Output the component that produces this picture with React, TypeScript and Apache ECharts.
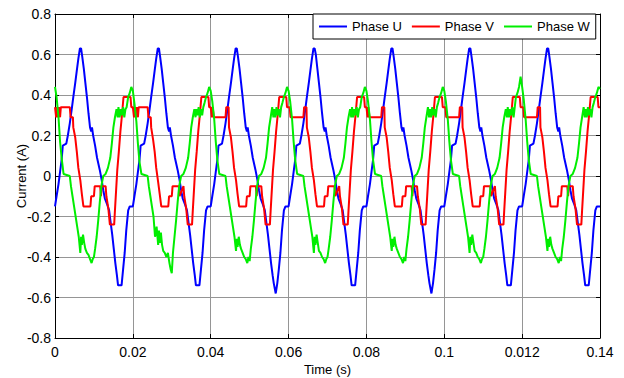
import React, { useEffect, useRef } from "react";
import * as echarts from "echarts";

const FONT = "'Liberation Sans', Arial, sans-serif";

const xTickLabels = ["0", "0.02", "0.04", "0.06", "0.08", "0.1", "0.012", "0.14"];
const yTickLabels = ["-0.8", "-0.6", "-0.4", "-0.2", "0", "0.2", "0.4", "0.6", "0.8"];
const seriesNames = ["Phase U", "Phase V", "Phase W"];

// start time of each 20 ms cycle
const cycleStarts = [0, 0.02, 0.04, 0.06, 0.08, 0.1, 0.12];

// Phase U: vertex times inside a cycle, and the values read for each cycle
const phaseUTimes = [0, 0.0004, 0.0009, 0.0013, 0.0017, 0.002, 0.0029, 0.0033, 0.0038, 0.0043, 0.0047, 0.0052, 0.0056, 0.006, 0.0064, 0.0067, 0.007, 0.0074, 0.0078, 0.0082, 0.0086, 0.009, 0.0093, 0.0095, 0.0098, 0.0103, 0.0108, 0.0115, 0.012, 0.0124, 0.0128, 0.0134, 0.0139, 0.0143, 0.0147, 0.0151, 0.0155, 0.0159, 0.0162, 0.0167, 0.0171, 0.0175, 0.0179, 0.0183, 0.0188, 0.0192];
const phaseUCycles = [
  [-0.15, -0.1, -0.04, 0.02, 0.08, 0.15, 0.16, 0.2, 0.26, 0.33, 0.39, 0.46, 0.52, 0.58, 0.63, 0.63, 0.59, 0.53, 0.46, 0.39, 0.31, 0.24, 0.22, 0.24, 0.2, 0.15, 0.09, 0.03, -0.02, -0.07, -0.11, -0.14, -0.17, -0.23, -0.29, -0.36, -0.43, -0.49, -0.54, -0.54, -0.54, -0.46, -0.38, -0.27, -0.17, -0.15],
  [-0.15, -0.1, -0.04, 0.02, 0.08, 0.15, 0.16, 0.2, 0.26, 0.33, 0.39, 0.46, 0.52, 0.58, 0.63, 0.63, 0.59, 0.53, 0.46, 0.39, 0.31, 0.24, 0.22, 0.24, 0.2, 0.15, 0.09, 0.03, -0.02, -0.07, -0.11, -0.14, -0.17, -0.23, -0.29, -0.36, -0.43, -0.49, -0.54, -0.54, -0.54, -0.46, -0.38, -0.27, -0.17, -0.15],
  [-0.15, -0.1, -0.04, 0.02, 0.08, 0.15, 0.16, 0.2, 0.26, 0.33, 0.39, 0.46, 0.52, 0.58, 0.63, 0.63, 0.59, 0.53, 0.46, 0.39, 0.31, 0.24, 0.22, 0.24, 0.2, 0.15, 0.09, 0.03, -0.02, -0.07, -0.11, -0.14, -0.17, -0.23, -0.29, -0.36, -0.43, -0.49, -0.53, -0.58, -0.53, -0.46, -0.38, -0.27, -0.17, -0.15],
  [-0.15, -0.1, -0.04, 0.02, 0.08, 0.15, 0.16, 0.2, 0.26, 0.33, 0.39, 0.46, 0.52, 0.58, 0.63, 0.63, 0.6, 0.53, 0.46, 0.39, 0.31, 0.24, 0.22, 0.24, 0.2, 0.15, 0.09, 0.03, -0.02, -0.07, -0.11, -0.14, -0.17, -0.23, -0.29, -0.36, -0.43, -0.49, -0.54, -0.54, -0.54, -0.46, -0.38, -0.27, -0.17, -0.15],
  [-0.15, -0.1, -0.04, 0.02, 0.08, 0.15, 0.16, 0.2, 0.26, 0.33, 0.39, 0.46, 0.52, 0.58, 0.63, 0.63, 0.59, 0.53, 0.46, 0.39, 0.31, 0.24, 0.22, 0.24, 0.2, 0.15, 0.09, 0.03, -0.02, -0.07, -0.11, -0.14, -0.17, -0.23, -0.29, -0.36, -0.43, -0.49, -0.53, -0.58, -0.53, -0.46, -0.38, -0.27, -0.17, -0.15],
  [-0.15, -0.1, -0.04, 0.02, 0.08, 0.15, 0.16, 0.2, 0.26, 0.33, 0.39, 0.46, 0.52, 0.58, 0.63, 0.63, 0.59, 0.53, 0.46, 0.39, 0.31, 0.24, 0.22, 0.24, 0.2, 0.15, 0.09, 0.03, -0.02, -0.07, -0.11, -0.14, -0.17, -0.23, -0.29, -0.36, -0.43, -0.49, -0.54, -0.54, -0.54, -0.46, -0.38, -0.27, -0.17, -0.15],
  [-0.15, -0.1, -0.04, 0.02, 0.08, 0.15, 0.16, 0.2, 0.26, 0.33, 0.39, 0.46, 0.52, 0.58, 0.63, 0.63, 0.59, 0.53, 0.46, 0.39, 0.31, 0.24, 0.22, 0.24, 0.2, 0.15, 0.09, 0.03, -0.02, -0.07, -0.11, -0.14, -0.17, -0.23, -0.29, -0.36, -0.43, -0.49, -0.54, -0.54, -0.54, -0.46, -0.38, -0.27, -0.17, -0.15],
];
const phaseUEnd = -0.15;

// Phase V
const phaseVTimes = [0, 0.0003, 0.0005, 0.0008, 0.001, 0.0013, 0.0015, 0.0038, 0.004, 0.0046, 0.0047, 0.0052, 0.0056, 0.006, 0.0065, 0.0069, 0.0073, 0.0091, 0.0093, 0.01, 0.0102, 0.0116, 0.0118, 0.012, 0.013, 0.0132, 0.0137, 0.0141, 0.0152, 0.0154, 0.0157, 0.016, 0.0164, 0.0168, 0.0172, 0.0176, 0.0194, 0.0196];
const phaseVCycles = [
  [0.34, 0.29, 0.34, 0.29, 0.34, 0.29, 0.34, 0.34, 0.29, 0.29, 0.24, 0.19, 0.12, 0.04, -0.02, -0.09, -0.15, -0.15, -0.1, -0.1, -0.05, -0.05, -0.1, -0.05, -0.05, -0.1, -0.16, -0.24, -0.24, -0.17, -0.07, 0.03, 0.12, 0.22, 0.3, 0.39, 0.39, 0.34],
  [0.34, 0.29, 0.34, 0.29, 0.34, 0.29, 0.34, 0.34, 0.29, 0.29, 0.24, 0.18, 0.12, 0.04, -0.03, -0.09, -0.15, -0.15, -0.1, -0.1, -0.05, -0.05, -0.05, -0.1, -0.05, -0.1, -0.16, -0.24, -0.24, -0.17, -0.07, 0.03, 0.12, 0.22, 0.3, 0.39, 0.39, 0.34],
  [0.34, 0.29, 0.34, 0.29, 0.29, 0.29, 0.29, 0.29, 0.34, 0.34, 0.24, 0.19, 0.12, 0.04, -0.02, -0.09, -0.15, -0.15, -0.1, -0.1, -0.05, -0.05, -0.1, -0.05, -0.05, -0.1, -0.16, -0.24, -0.24, -0.17, -0.07, 0.03, 0.12, 0.22, 0.3, 0.39, 0.39, 0.34],
  [0.34, 0.34, 0.29, 0.29, 0.29, 0.29, 0.29, 0.29, 0.34, 0.34, 0.24, 0.19, 0.12, 0.04, -0.02, -0.09, -0.15, -0.15, -0.1, -0.1, -0.05, -0.05, -0.05, -0.1, -0.05, -0.1, -0.16, -0.24, -0.24, -0.17, -0.07, 0.03, 0.12, 0.22, 0.3, 0.39, 0.39, 0.34],
  [0.34, 0.29, 0.34, 0.29, 0.29, 0.29, 0.29, 0.29, 0.34, 0.34, 0.24, 0.19, 0.12, 0.04, -0.02, -0.09, -0.15, -0.15, -0.1, -0.1, -0.05, -0.05, -0.1, -0.05, -0.05, -0.1, -0.16, -0.24, -0.24, -0.17, -0.07, 0.03, 0.12, 0.22, 0.3, 0.39, 0.39, 0.34],
  [0.34, 0.34, 0.29, 0.29, 0.29, 0.29, 0.29, 0.29, 0.34, 0.34, 0.24, 0.19, 0.12, 0.04, -0.02, -0.09, -0.15, -0.15, -0.1, -0.1, -0.05, -0.05, -0.05, -0.1, -0.05, -0.1, -0.16, -0.24, -0.24, -0.17, -0.07, 0.03, 0.12, 0.22, 0.3, 0.39, 0.39, 0.34],
  [0.34, 0.34, 0.29, 0.29, 0.29, 0.29, 0.29, 0.29, 0.34, 0.34, 0.24, 0.19, 0.12, 0.04, -0.02, -0.09, -0.15, -0.15, -0.1, -0.1, -0.05, -0.05, -0.1, -0.05, -0.05, -0.1, -0.16, -0.24, -0.24, -0.17, -0.07, 0.03, 0.12, 0.22, 0.3, 0.39, 0.39, 0.34],
];
const phaseVEnd = 0.34;

// Phase W
const phaseWTimes = [0, 0.0004, 0.0009, 0.0013, 0.0017, 0.0022, 0.0038, 0.0041, 0.0045, 0.0049, 0.0053, 0.0057, 0.0061, 0.0065, 0.0067, 0.0069, 0.0072, 0.0075, 0.0078, 0.0082, 0.0086, 0.009, 0.0094, 0.0097, 0.01, 0.0103, 0.0107, 0.0111, 0.0115, 0.0119, 0.0124, 0.013, 0.0136, 0.0142, 0.0146, 0.015, 0.0154, 0.0158, 0.0161, 0.0163, 0.0166, 0.0169, 0.0172, 0.0175, 0.0178, 0.0181, 0.0184, 0.0188, 0.0192, 0.0196];
const phaseWCycles = [
  [0.44, 0.39, 0.29, 0.17, 0.09, 0.01, 0.0, -0.05, -0.1, -0.15, -0.2, -0.25, -0.3, -0.38, -0.3, -0.34, -0.29, -0.33, -0.36, -0.38, -0.39, -0.41, -0.43, -0.41, -0.4, -0.36, -0.3, -0.22, -0.13, -0.05, 0.0, 0.01, 0.04, 0.09, 0.16, 0.24, 0.29, 0.33, 0.29, 0.34, 0.29, 0.33, 0.3, 0.34, 0.29, 0.33, 0.34, 0.39, 0.41, 0.44],
  [0.42, 0.36, 0.27, 0.16, 0.07, 0.01, 0.0, -0.05, -0.1, -0.15, -0.2, -0.3, -0.25, -0.34, -0.27, -0.33, -0.28, -0.34, -0.37, -0.38, -0.4, -0.38, -0.43, -0.46, -0.48, -0.38, -0.3, -0.22, -0.13, -0.05, 0.0, 0.01, 0.04, 0.09, 0.16, 0.24, 0.29, 0.33, 0.29, 0.33, 0.3, 0.34, 0.29, 0.33, 0.3, 0.34, 0.36, 0.39, 0.41, 0.44],
  [0.42, 0.37, 0.28, 0.17, 0.08, 0.01, 0.0, -0.05, -0.1, -0.15, -0.2, -0.25, -0.3, -0.37, -0.31, -0.35, -0.3, -0.34, -0.36, -0.38, -0.4, -0.41, -0.43, -0.4, -0.42, -0.36, -0.3, -0.22, -0.13, -0.05, 0.0, 0.01, 0.04, 0.09, 0.16, 0.24, 0.29, 0.34, 0.29, 0.33, 0.29, 0.34, 0.3, 0.33, 0.29, 0.34, 0.36, 0.39, 0.41, 0.44],
  [0.42, 0.37, 0.28, 0.17, 0.08, 0.01, 0.0, -0.05, -0.1, -0.15, -0.2, -0.25, -0.3, -0.38, -0.3, -0.34, -0.29, -0.33, -0.37, -0.38, -0.4, -0.41, -0.43, -0.41, -0.4, -0.36, -0.3, -0.22, -0.13, -0.05, 0.0, 0.01, 0.04, 0.09, 0.16, 0.24, 0.29, 0.33, 0.29, 0.34, 0.29, 0.33, 0.3, 0.34, 0.29, 0.33, 0.34, 0.39, 0.41, 0.44],
  [0.42, 0.37, 0.28, 0.17, 0.08, 0.01, 0.0, -0.05, -0.1, -0.15, -0.2, -0.25, -0.3, -0.37, -0.31, -0.35, -0.3, -0.34, -0.36, -0.38, -0.4, -0.41, -0.43, -0.4, -0.42, -0.36, -0.3, -0.22, -0.13, -0.05, 0.0, 0.01, 0.04, 0.09, 0.16, 0.24, 0.29, 0.34, 0.29, 0.33, 0.29, 0.34, 0.3, 0.33, 0.29, 0.34, 0.36, 0.39, 0.41, 0.44],
  [0.42, 0.37, 0.28, 0.17, 0.08, 0.01, 0.0, -0.05, -0.1, -0.15, -0.2, -0.25, -0.3, -0.38, -0.3, -0.34, -0.29, -0.33, -0.37, -0.38, -0.4, -0.41, -0.43, -0.41, -0.4, -0.36, -0.3, -0.22, -0.13, -0.05, 0.0, 0.01, 0.04, 0.09, 0.16, 0.24, 0.29, 0.33, 0.29, 0.34, 0.29, 0.33, 0.3, 0.34, 0.29, 0.34, 0.39, 0.41, 0.44, 0.49],
  [0.44, 0.38, 0.28, 0.17, 0.08, 0.01, 0.0, -0.05, -0.1, -0.15, -0.2, -0.25, -0.3, -0.37, -0.31, -0.35, -0.3, -0.34, -0.36, -0.38, -0.4, -0.41, -0.43, -0.4, -0.42, -0.36, -0.3, -0.22, -0.13, -0.05, 0.0, 0.01, 0.04, 0.09, 0.16, 0.24, 0.29, 0.34, 0.29, 0.33, 0.29, 0.34, 0.3, 0.33, 0.29, 0.34, 0.36, 0.39, 0.41, 0.44],
];
const phaseWEnd = 0.43;

const seriesColors = ["#0000ff", "#ff0000", "#00ee00"];

function buildPoints(times: number[], cycles: number[][], endValue: number) {
  const pts: number[][] = [];
  cycles.forEach((row, k) => {
    row.forEach((v, i) => {
      pts.push([+(cycleStarts[k] + times[i]).toFixed(5), v]);
    });
  });
  pts.push([0.14, endValue]);
  return pts;
}

export default function App() {
  const ref = useRef<HTMLDivElement>(null);
  useEffect(() => {
    if (!ref.current) return;
    const chart = echarts.init(ref.current, null, { renderer: "svg" });
    const data = [
      buildPoints(phaseUTimes, phaseUCycles, phaseUEnd),
      buildPoints(phaseVTimes, phaseVCycles, phaseVEnd),
      buildPoints(phaseWTimes, phaseWCycles, phaseWEnd),
    ];
    const textBase = { color: "#000", fontFamily: FONT, fontSize: 13 };
    const tickText = { color: "#000", fontFamily: FONT, fontSize: 14 };
    const xFmt = (v: number) => xTickLabels[Math.round(v / 0.02)] ?? "";
    const yFmt = (v: number) => yTickLabels[Math.round((v + 0.8) / 0.2)] ?? "";
    const axisLine = { show: true, onZero: false, lineStyle: { color: "#000", width: 1 } };
    const tick = { show: true, inside: true, length: 4, lineStyle: { color: "#000", width: 1 } };
    chart.setOption({
      animation: false,
      backgroundColor: "#fff",
      grid: { left: 55, top: 14, width: 545, height: 324, show: false, containLabel: false, outerBoundsMode: "none" },
      legend: {
        data: seriesNames,
        left: 313,
        top: 14,
        itemWidth: 28,
        itemHeight: 2,
        itemGap: 10,
        icon: "rect",
        padding: [6, 6, 6, 6],
        borderColor: "#000",
        borderWidth: 1,
        backgroundColor: "#fff",
        textStyle: { ...textBase },
      },
      xAxis: [
        {
          type: "value",
          min: 0,
          max: 0.14,
          interval: 0.02,
          position: "bottom",
          axisLine,
          axisTick: tick,
          axisLabel: { ...tickText, margin: 7, formatter: xFmt, showMinLabel: true, showMaxLabel: true },
          splitLine: { show: true, lineStyle: { color: "#959595", width: 1 } },
          name: "Time (s)",
          nameLocation: "middle",
          nameGap: 25,
          nameMoveOverlap: false,
          nameTextStyle: { ...textBase },
        },
        {
          type: "value",
          min: 0,
          max: 0.14,
          interval: 0.02,
          position: "top",
          axisLine,
          axisTick: tick,
          axisLabel: { show: false },
          splitLine: { show: false },
        },
      ],
      yAxis: [
        {
          type: "value",
          min: -0.8,
          max: 0.8,
          interval: 0.2,
          position: "left",
          axisLine,
          axisTick: tick,
          axisLabel: { ...tickText, margin: 4, formatter: yFmt, showMinLabel: true, showMaxLabel: true },
          splitLine: { show: true, lineStyle: { color: "#959595", width: 1 } },
          name: "Current (A)",
          nameLocation: "middle",
          nameGap: 27,
          nameMoveOverlap: false,
          nameTextStyle: { ...textBase },
        },
        {
          type: "value",
          min: -0.8,
          max: 0.8,
          interval: 0.2,
          position: "right",
          axisLine,
          axisTick: tick,
          axisLabel: { show: false },
          splitLine: { show: false },
        },
      ],
      series: seriesNames.map((name, i) => ({
        name,
        type: "line",
        data: data[i],
        showSymbol: false,
        symbol: "none",
        clip: true,
        color: seriesColors[i],
        lineStyle: { color: seriesColors[i], width: 2 },
        emphasis: { disabled: true },
      })),
    });
    return () => chart.dispose();
  }, []);
  return (
    <div
      ref={ref}
      style={{ position: "fixed", left: 0, top: 0, width: 624, height: 378, background: "#fff" }}
    />
  );
}
